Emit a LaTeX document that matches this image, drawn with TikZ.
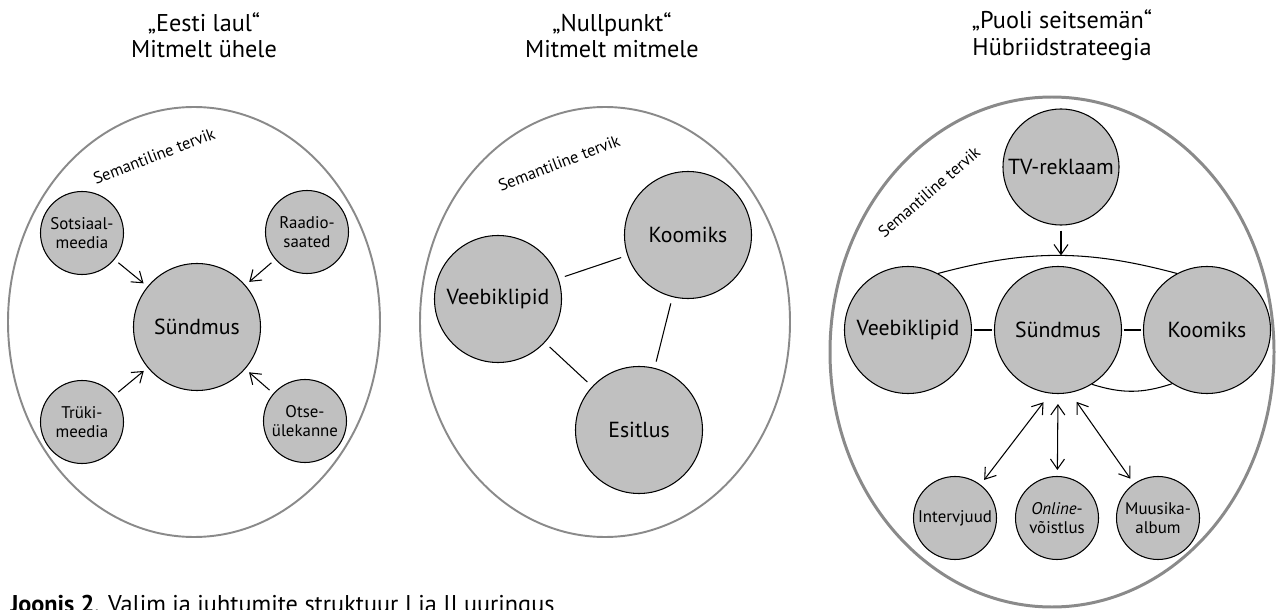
\documentclass[tikz,border=0pt]{standalone}
\usepackage{fontspec}
\setmainfont{PT Sans}
\usetikzlibrary{arrows.meta}

\definecolor{ballfill}{RGB}{192,192,192}
\definecolor{ringgray}{RGB}{138,138,138}

\tikzset{
  ball/.style={circle,draw=black,fill=ballfill,line width=0.6pt,inner sep=0pt,align=center},
  bigball/.style={ball,minimum size=25.4mm,font=\fontsize{12.4}{14}\selectfont},
  tvball/.style={ball,minimum size=23.2mm,font=\fontsize{12.4}{14}\selectfont},
  smallball/.style={ball,minimum size=16.6mm,font=\fontsize{9.6}{11.2}\selectfont},
  ring/.style={draw=ringgray,line width=1.1pt},
  wide ring/.style={draw=ringgray,line width=1.7pt},
  whole/.style={inner sep=0pt,font=\fontsize{9.4}{10}\selectfont},
  heading/.style={align=center,inner sep=0pt,font=\fontsize{13.8}{15}\selectfont},
  link/.style={line width=0.6pt,shorten <=1.3mm,shorten >=1.3mm},
  arr/.style={line width=0.6pt,-{Straight Barb[length=2mm,width=2.8mm]},shorten <=1mm,shorten >=1mm},
  dblarr/.style={line width=0.6pt,{Straight Barb[length=2mm,width=2.8mm]}-{Straight Barb[length=2mm,width=2.8mm]}}
}

\begin{document}
\begin{tikzpicture}[x=0.2mm,y=-0.2mm]
\useasboundingbox (0,0) rectangle (1277,610);

% Headings over the three cases
\node[heading] (head1) at (204,35) {„Eesti laul“\\Mitmelt ühele};
\node[heading] (head2) at (612,35) {„Nullpunkt“\\Mitmelt mitmele};
\node[heading] (head3) at (1062,35) {„Puoli seitsemän“\\Hübriidstrateegia};

% Case 1: many to one
\draw[ring] (194,322) ellipse [x radius=186, y radius=215];
\node[whole,rotate=21] (whole1) at (154,156) {Semantiline tervik};
\node[bigball] (event1) at (197,327) {Sündmus};
\node[smallball] (social) at (82,233) {Sotsiaal-\\meedia};
\node[smallball] (radio) at (307,232) {Raadio-\\saated};
\node[smallball] (print) at (82,422) {Trüki-\\meedia};
\node[smallball] (live) at (305,421) {Otse-\\ülekanne};
\foreach \src in {social,radio,print,live}
  \draw[arr] (\src) -- (event1);

% Case 2: many to many
\draw[ring] (605,322) ellipse [x radius=185, y radius=215];
\node[whole,rotate=21] (whole2) at (559,163) {Semantiline tervik};
\node[bigball] (comic2) at (688,235) {Koomiks};
\node[bigball] (clips2) at (498,299) {Veebiklipid};
\node[bigball] (show2) at (639,430) {Esitlus};
\draw[link] (clips2) -- (comic2);
\draw[link] (clips2) -- (show2);
\draw[link] (comic2) -- (show2);

% Case 3: hybrid strategy
\draw[wide ring] (1052,352) ellipse [x radius=222, y radius=255];
\node[whole,rotate=41] (whole3) at (929,192) {Semantiline tervik};
\node[tvball] (tv) at (1061,167) {TV-reklaam};
\node[bigball] (event3) at (1058,330) {Sündmus};
\node[bigball] (clips3) at (908,330) {Veebiklipid};
\node[bigball] (comic3) at (1207,330) {Koomiks};
\node[smallball] (talk) at (955,518) {Intervjuud};
\node[smallball] (quiz) at (1057,518) {\textit{Online}-\\võistlus};
\node[smallball] (album) at (1158,518) {Muusika-\\album};

\draw[line width=0.6pt] (clips3.62) to[bend left=15] coordinate[pos=0.5] (arctop) (comic3.118);
\draw[line width=0.6pt] (event3.-58) to[bend right=18] (comic3.-123);
\draw[line width=0.6pt,shorten <=0.3mm,shorten >=0.3mm] (clips3) -- (event3);
\draw[line width=0.6pt,shorten <=0.3mm,shorten >=0.3mm] (event3) -- (comic3);
\draw[arr,shorten >=0pt] (tv) -- (tv |- arctop);

\draw[dblarr,shorten <=1.2mm,shorten >=2.2mm] (talk) -- (event3.-97);
\draw[dblarr,shorten <=1.2mm,shorten >=2mm] (quiz) -- (event3.-90);
\draw[dblarr,shorten <=1.2mm,shorten >=2.2mm] (album) -- (event3.-79);

% Caption, cut by the lower edge
\node[anchor=base west,inner sep=0pt,font=\fontsize{13.8}{15}\selectfont] (caption) at (10,612)
  {\textbf{Joonis 2}. Valim ja juhtumite struktuur I ja II uuringus};
\end{tikzpicture}
\end{document}
